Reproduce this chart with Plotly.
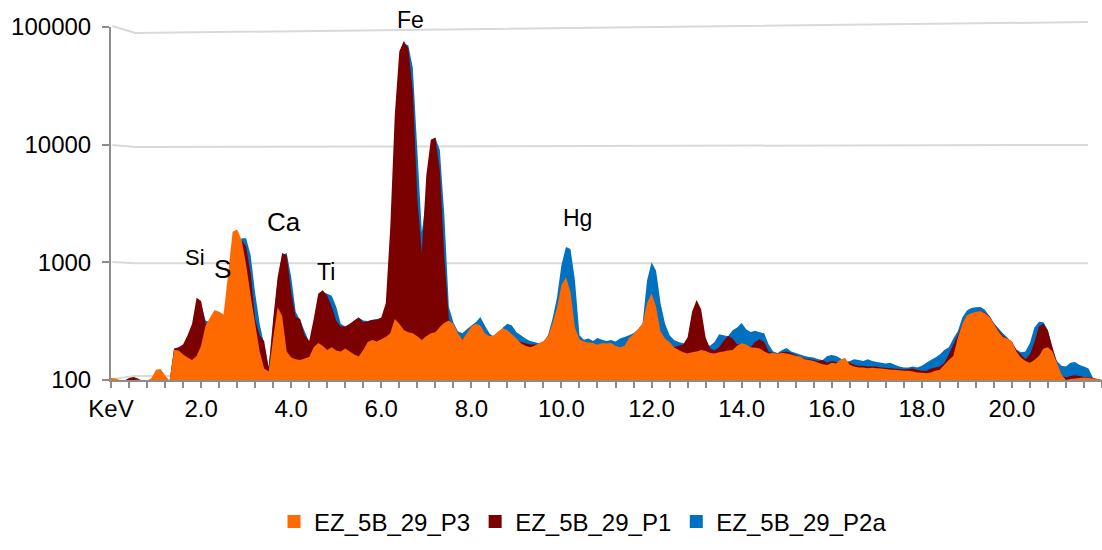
import plotly.graph_objects as go

# Energy channels (keV), 0.1 keV spacing, 0.0 .. 22.0
energy_kev = [round(0.1 * i, 1) for i in range(221)]

# EZ_5B_29_P3 (orange, front)
p3_counts = [
    104, 103, 100, 98, 98, 100, 101, 99, 98, 104,
    122, 124, 110, 98, 180, 178, 165, 155, 148, 160,
    195, 290, 340, 393, 380, 360, 800, 1820, 1900, 1550,
    950, 520, 300, 175, 125, 118, 225, 415, 350, 175,
    155, 150, 148, 152, 157, 190, 206, 195, 180, 190,
    178, 175, 185, 175, 165, 158, 180, 210, 219, 212,
    222, 232, 250, 330, 300, 266, 255, 250, 235, 219,
    235, 250, 255, 282, 306, 320, 300, 250, 220, 250,
    285, 300, 290, 250, 235, 240, 260, 276, 265, 245,
    225, 205, 195, 190, 195, 205, 215, 235, 300, 410,
    640, 750, 560, 280, 222, 212, 208, 206, 200, 206,
    204, 206, 195, 190, 195, 228, 245, 270, 300, 450,
    545, 420, 260, 225, 210, 190, 180, 172, 168, 172,
    175, 180, 176, 170, 168, 172, 175, 178, 180, 195,
    206, 200, 190, 188, 185, 175, 168, 170, 168, 170,
    168, 165, 160, 158, 150, 148, 145, 140, 136, 134,
    140, 138, 150, 154, 135, 130, 128, 128, 126, 127,
    126, 125, 124, 122, 122, 121, 120, 120, 118, 116,
    115, 114, 116, 120, 122, 135, 148, 160, 230, 300,
    355, 370, 380, 386, 370, 345, 300, 260, 232, 225,
    212, 175, 155, 145, 140, 148, 160, 185, 190, 175,
    140, 112, 100, 102, 103, 104, 105, 104, 103, 102,
    100,
]

# EZ_5B_29_P1 (dark red, middle)
p1_counts = [
    98, 98, 98, 99, 104, 106, 103, 98, 97, 97,
    98, 100, 100, 98, 185, 190, 200, 240, 300, 500,
    470, 300, 300, 340, 340, 330, 600, 1200, 1450, 1550,
    1350, 800, 330, 240, 215, 125, 330, 750, 1200, 1150,
    560, 343, 330, 240, 215, 330, 540, 580, 520, 420,
    320, 285, 285, 300, 320, 340, 310, 315, 323, 325,
    340, 450, 2000, 18000, 62000, 76000, 66000, 28000, 3500, 1200,
    5500, 11000, 11500, 6000, 1100, 330, 290, 235, 222, 245,
    280, 295, 285, 245, 230, 235, 255, 270, 260, 240,
    220, 210, 205, 200, 200, 200, 210, 230, 290, 390,
    500, 560, 480, 270, 218, 210, 205, 205, 200, 205,
    200, 204, 195, 188, 192, 222, 240, 262, 290, 420,
    500, 400, 255, 222, 208, 190, 195, 200, 230, 380,
    478, 400, 230, 185, 178, 190, 215, 238, 225, 200,
    205, 198, 190, 210, 222, 210, 175, 170, 168, 172,
    175, 170, 162, 158, 152, 150, 148, 145, 148, 140,
    145, 142, 140, 145, 140, 135, 132, 132, 130, 130,
    130, 128, 127, 126, 125, 124, 123, 124, 125, 122,
    120, 120, 125, 128, 130, 140, 165, 200, 240, 300,
    350, 365, 378, 385, 372, 350, 300, 266, 238, 225,
    212, 180, 165, 150, 165, 210, 285, 300, 260, 190,
    140, 110, 105, 108, 110, 108, 106, 105, 104, 102,
    100,
]

# EZ_5B_29_P2a (blue, back)
p2a_counts = [
    95, 95, 95, 95, 95, 95, 95, 95, 95, 95,
    95, 95, 95, 95, 180, 185, 195, 230, 280, 420,
    440, 320, 310, 330, 330, 320, 500, 1000, 1350, 1600,
    1600, 1150, 550, 300, 200, 130, 300, 700, 1150, 1200,
    750, 380, 320, 260, 210, 280, 460, 560, 540, 520,
    420, 300, 285, 295, 320, 340, 320, 318, 325, 330,
    335, 380, 1000, 8000, 40000, 72000, 70000, 45000, 9000, 1800,
    3500, 10000, 11500, 9000, 2500, 420, 310, 260, 250, 270,
    290, 310, 343, 290, 250, 232, 250, 280, 300, 290,
    255, 240, 225, 215, 210, 205, 210, 240, 330, 500,
    950, 1350, 1300, 700, 240, 220, 225, 215, 228, 220,
    215, 219, 212, 225, 232, 240, 250, 270, 300, 700,
    1000, 850, 450, 300, 240, 219, 210, 205, 205, 210,
    215, 210, 200, 195, 210, 245, 240, 235, 265, 280,
    305, 270, 256, 262, 255, 250, 200, 175, 170, 180,
    187, 175, 170, 165, 160, 157, 155, 150, 148, 160,
    163, 160, 152, 142, 145, 150, 148, 145, 150, 145,
    142, 140, 138, 140, 135, 130, 128, 128, 130, 128,
    132, 140, 148, 155, 165, 180, 190, 225, 260, 340,
    390, 410, 415, 417, 395, 350, 305, 275, 250, 230,
    205, 182, 172, 175, 206, 280, 312, 310, 266, 185,
    145, 132, 130, 140, 142, 134, 130, 125, 104, 100,
    98,
]

series_names = ["EZ_5B_29_P3", "EZ_5B_29_P1", "EZ_5B_29_P2a"]
series_colors = ["#FF6A00", "#7B0000", "#0070C0"]

y_tick_vals = [100, 1000, 10000, 100000]
y_tick_text = ["100", "1000", "10000", "100000"]
x_tick_vals = [0, 2, 4, 6, 8, 10, 12, 14, 16, 18, 20]
x_tick_text = ["KeV", "2.0", "4.0", "6.0", "8.0", "10.0", "12.0", "14.0",
               "16.0", "18.0", "20.0"]

peak_labels = ["Si", "S", "Ca", "Ti", "Fe", "Hg"]
peak_label_kev = [1.87, 2.47, 3.85, 4.78, 6.64, 10.35]
peak_label_y = [0.348, 0.314, 0.448, 0.306, 1.02, 0.459]
peak_label_size = [22, 26, 26, 23, 23, 23]

FONT = "Liberation Sans, Arial, sans-serif"

fig = go.Figure()

# back to front: blue, dark red, orange
for counts, color in [(p2a_counts, series_colors[2]),
                      (p1_counts, series_colors[1]),
                      (p3_counts, series_colors[0])]:
    fig.add_trace(go.Scatter(
        x=energy_kev, y=counts, mode="none", fill="tozeroy",
        fillcolor=color, showlegend=False, hoverinfo="skip"))

# legend entries (square swatches)
for name, color in zip(series_names, series_colors):
    fig.add_trace(go.Scatter(
        x=[None], y=[None], mode="markers", name=name,
        marker=dict(symbol="square", size=13, color=color)))

# perspective gridlines (back wall)
grid_paths = [
    "M 0.03,1.003 L 0.54,0.983 L 21.69,1.014",
    "M 0.03,0.666 L 0.54,0.660 L 21.69,0.666",
    "M 0.03,0.334 L 0.54,0.331 L 21.69,0.331",
    "M 0.03,0.003 L 0.54,0.011 L 21.69,0.011",
]
shapes = [dict(type="path", path=p, xref="x", yref="paper", layer="below",
               line=dict(color="#d9d9d9", width=2)) for p in grid_paths]

annotations = [
    dict(x=k, y=yv, xref="x", yref="paper", text=t, showarrow=False,
         font=dict(family=FONT, size=s, color="#000000"),
         xanchor="center", yanchor="middle")
    for t, k, yv, s in zip(peak_labels, peak_label_kev, peak_label_y, peak_label_size)
]

fig.update_layout(
    width=1102, height=550,
    margin=dict(l=111, r=0, t=27, b=170),
    paper_bgcolor="white", plot_bgcolor="white",
    font=dict(family=FONT, size=24, color="#000000"),
    shapes=shapes,
    annotations=annotations,
    showlegend=True,
    legend=dict(orientation="h", x=0.1645, xanchor="left",
                y=-0.402, yanchor="middle", itemwidth=30,
                font=dict(family=FONT, size=24, color="#000000"),
                bgcolor="rgba(0,0,0,0)"),
    xaxis=dict(range=[0, 22.0], showgrid=False, zeroline=False,
               showline=True, linecolor="#8c8c8c", linewidth=2,
               ticks="outside", ticklen=6, tickwidth=1.5, tickcolor="#8c8c8c",
               tickmode="array", tickvals=x_tick_vals, ticktext=x_tick_text,
               ticklabelstandoff=0,
               minor=dict(ticks="outside", dtick=0.4, tick0=0, ticklen=6,
                          tickwidth=1.5, tickcolor="#8c8c8c", showgrid=False),
               tickfont=dict(family=FONT, size=24, color="#000000")),
    yaxis=dict(type="log", range=[2, 5], showgrid=False, zeroline=False,
               showline=True, linecolor="#8c8c8c", linewidth=2,
               ticks="outside", ticklen=7, tickwidth=1.5, tickcolor="#8c8c8c",
               tickmode="array", tickvals=y_tick_vals, ticktext=y_tick_text,
               ticklabelstandoff=6,
               tickfont=dict(family=FONT, size=24, color="#000000")),
)

assert len(p3_counts) == len(energy_kev)
assert len(p1_counts) == len(energy_kev)
assert len(p2a_counts) == len(energy_kev)

fig.write_html("out.html")
